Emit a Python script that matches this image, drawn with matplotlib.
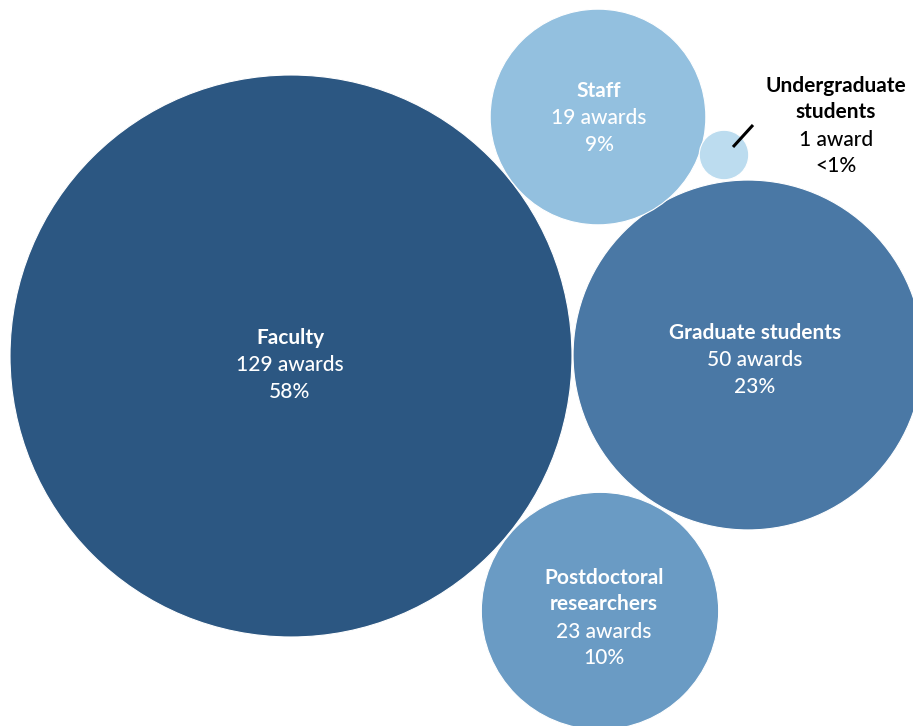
import numpy as np
import matplotlib.pyplot as plt
from matplotlib.patches import Circle

plt.rcParams['font.family'] = ['Lato', 'DejaVu Sans']

# awards by group
groups = ["Faculty", "Graduate students", "Postdoctoral\nresearchers", "Staff", "Undergraduate\nstudents"]
awards = [129, 50, 23, 19, 1]
shares = ["58%", "23%", "10%", "9%", "<1%"]
colors = ["#2c5782", "#4a78a5", "#6a9bc4", "#93c0df", "#bcdcef"]

# packed layout (pixel space), radius scaled from award count
centers = [(291, 356), (748, 355), (600, 611), (598, 117), (724, 155)]
label_pos = [(290, 365), (755, 360), (604, 618), (599, 118), (836, 126)]
scale = 24.74

fig = plt.figure(figsize=(9.13, 7.26), dpi=100)
ax = fig.add_axes([0, 0, 1, 1])
ax.set_xlim(0, 913)
ax.set_ylim(726, 0)
ax.set_aspect('equal')
ax.axis('off')

for i in range(len(groups)):
    r = scale * np.sqrt(awards[i])
    ax.add_patch(Circle(centers[i], r, facecolor=colors[i], edgecolor='white', linewidth=0.8))

lh = 27
for i in range(len(groups)):
    n = awards[i]
    unit = "award" if n == 1 else "awards"
    name_lines = groups[i].split("\n")
    lines = [(t, 'bold') for t in name_lines] + [(f"{n} {unit}", 'medium'), (shares[i], 'medium')]
    tc = 'white' if i < 4 else 'black'
    x, y = label_pos[i]
    y0 = y - lh * (len(lines) - 1) / 2
    for j, (t, w) in enumerate(lines):
        ax.text(x, y0 + j * lh, t, ha='center', va='center', color=tc,
                fontsize=15, fontweight=w)

# leader line for the tiny bubble
ax.plot([733, 753], [147, 125], color='black', linewidth=2.2, solid_capstyle='butt')

fig.savefig("out.png", dpi=100)
